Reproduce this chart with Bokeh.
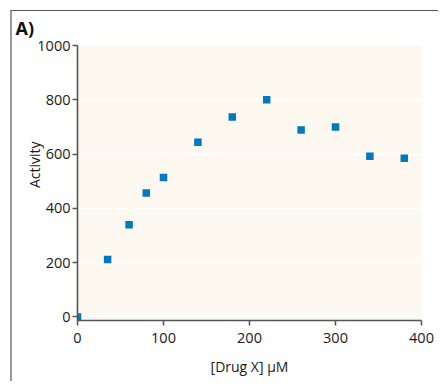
from bokeh.plotting import figure
from bokeh.models import Title, FixedTicker
from bokeh.embed import file_html
from bokeh.resources import INLINE

drug_x = [0, 35, 60, 80, 100, 140, 180, 220, 260, 300, 340, 380]
activity = [0, 212, 340, 457, 514, 644, 737, 800, 689, 700, 592, 585]
x_ticks = [0, 100, 200, 300, 400]
y_ticks = [0, 200, 400, 600, 800, 1000]

FONT = "Open Sans"

p = figure(width=428, height=371, output_backend="svg", toolbar_location=None,
           x_range=(0, 400), y_range=(-13, 1000),
           min_border_left=65, min_border_right=19, min_border_top=34, min_border_bottom=62)
p.background_fill_color = "#FDF8F0"
p.border_fill_color = "white"
p.outline_line_color = None
p.styles = {"border-top": "1.5px solid #555555", "border-left": "2px solid #9a9a9a",
            "margin-left": "10px", "margin-top": "10px"}

p.scatter(drug_x, activity, marker="square", size=7.5, color="#0079C1", line_color=None)

p.xgrid.visible = False
p.ygrid.grid_line_color = "white"
p.ygrid.grid_line_width = 1.5
p.ygrid.ticker = FixedTicker(ticks=y_ticks)

for ax in (p.xaxis[0], p.yaxis[0]):
    ax.axis_line_color = "#555555"
    ax.axis_line_width = 1.6
    ax.major_tick_line_color = "#555555"
    ax.major_tick_line_width = 1.5
    ax.major_tick_out = 5
    ax.major_tick_in = 0
    ax.minor_tick_line_color = None
    ax.major_label_text_font = FONT
    ax.major_label_text_font_size = "14.5px"
    ax.major_label_text_color = "#1a1a1a"

p.xaxis.ticker = FixedTicker(ticks=x_ticks)
p.yaxis.ticker = FixedTicker(ticks=y_ticks)
p.xaxis.major_label_standoff = 7
p.yaxis.major_label_standoff = 2

p.xaxis.axis_label = "[Drug X] \u03bcM"
p.xaxis.axis_label_text_font = FONT
p.xaxis.axis_label_text_font_size = "14px"
p.xaxis.axis_label_text_font_style = "normal"
p.xaxis.axis_label_text_color = "#1a1a1a"
p.xaxis.axis_label_standoff = 11

p.title.text = "A)"
p.title.align = "left"
p.title.offset = -62
p.title.standoff = 8
p.title.vertical_align = "top"
p.title.text_font = FONT
p.title.text_font_size = "18px"
p.title.text_font_style = "bold"
p.title.text_color = "#111111"

p.add_layout(Title(text="Activity", align="right", offset=96, standoff=-18,
                   text_font=FONT, text_font_size="14px", text_font_style="normal",
                   text_color="#1a1a1a"), "left")

open("out.html", "w").write(file_html(p, INLINE))
